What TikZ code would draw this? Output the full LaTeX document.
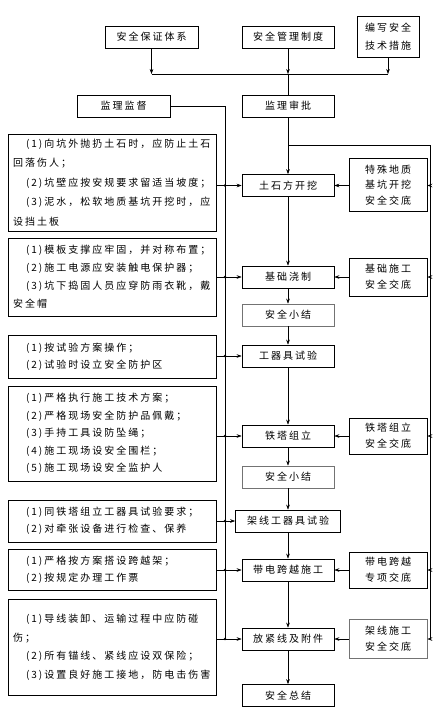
\documentclass[tikz,border=0pt]{standalone}
\usepackage{fontspec}
\newfontfamily\cjk[LetterSpace=20]{Noto Sans CJK SC}
\usetikzlibrary{arrows.meta,calc}
\begin{document}
\begin{tikzpicture}[x=1pt,y=-1pt,
  box/.style={draw, line width=0.7pt, inner sep=0pt, minimum height=22pt,
    font=\cjk\fontsize{10}{16}\selectfont, align=center},
  mbox/.style={box, minimum width=92pt},
  sbox/.style={box, minimum width=78pt},
  graybox/.style={draw=black!55},
  tbox/.style={draw, line width=0.7pt, minimum width=208pt, text width=198pt,
    inner xsep=5pt, inner ysep=0pt, align=left, font=\cjk\fontsize{10}{18}\selectfont},
  ln/.style={line width=0.5pt},
  arr/.style={ln, -{Stealth[length=5pt,width=3.6pt]}},
  jdot/.style={circle, fill, inner sep=0pt, minimum size=2.6pt}
]
\useasboundingbox (0,0) rectangle (441,718);

% top row
\node[box, minimum width=93pt] (A) at (151.5,37) {安全保证体系};
\node[mbox] (B) at (288,37) {安全管理制度};
\node[box, minimum width=62pt, minimum height=41pt, font=\cjk\fontsize{10}{18}\selectfont] (C) at (388,36.5) {编写安全\\技术措施};
\coordinate (hA) at (151.5,74);
\coordinate (hB) at (288,74);
\coordinate (hC) at (388,74);
\draw[arr] (A.south) -- (hA);
\draw[arr] (B.south) -- (hB);
\draw[arr] (C.south) -- (hC);
\draw[ln] (hA) -- (hC);

\node[box, minimum width=93pt] (E) at (123.5,106) {监理监督};
\node[mbox] (D) at (288,106) {监理审批};
\draw[ln] (hB) -- (D.north);

% main column
\node[mbox] (M1) at (288,185.5) {土石方开挖};
\node[mbox] (M2) at (288,277) {基础浇制};
\node[mbox, graybox] (M3) at (288,315) {安全小结};
\node[mbox] (M4) at (288,356) {工器具试验};
\node[mbox] (M5) at (288,436) {铁塔组立};
\node[mbox, graybox] (M6) at (288,477) {安全小结};
\node[box, minimum width=105pt] (M7) at (288,521) {架线工器具试验};
\node[mbox] (M8) at (288,570) {带电跨越施工};
\node[mbox] (M9) at (288,639) {放紧线及附件};
\node[mbox] (M10) at (288,695.5) {安全总结};

\draw[arr] (D.south) -- (M1.north);
\foreach \a/\b in {M1/M2,M2/M3,M3/M4,M4/M5,M5/M6,M6/M7,M7/M8,M8/M9,M9/M10}
  \draw[arr] (\a.south) -- (\b.north);

% side boxes
\node[sbox, minimum height=53pt, font=\cjk\fontsize{10}{15.5}\selectfont] (S1) at (388,185) {特殊地质\\基坑开挖\\安全交底};
\node[sbox, minimum height=38pt] (S2) at (388,277) {基础施工\\安全交底};
\node[sbox, minimum height=36pt] (S3) at (388,436) {铁塔组立\\安全交底};
\node[sbox, minimum height=36pt] (S4) at (388,570) {带电跨越\\专项交底};
\node[sbox, graybox, minimum height=39pt] (S5) at (388,639) {架线施工\\安全交底};

% right bus
\coordinate (rj) at (288,145);
\coordinate (rb) at (430,639);
\draw[ln] (rj) -| (rb);
\foreach \s/\m in {S1/M1,S2/M2,S3/M5,S4/M8,S5/M9}{
  \draw[arr] (\s.west |- \m) -- (\m.east);
  \draw[arr] (rb |- \m) -- (\s.east |- \m);
}

% left text boxes
\node[tbox, minimum height=97pt, font=\cjk\fontsize{10}{19.5}\selectfont] (T1) at (112,182.5)
 {\hspace*{13pt}(1)向坑外抛扔土石时，应防止土石\\回落伤人；\\\hspace*{13pt}(2)坑壁应按安规要求留适当坡度；\\\hspace*{13pt}(3)泥水，松软地质基坑开挖时，应\\设挡土板};
\node[tbox, minimum height=78pt] (T2) at (112,277)
 {\hspace*{13pt}(1)模板支撑应牢固，并对称布置；\\\hspace*{13pt}(2)施工电源应安装触电保护器；\\\hspace*{13pt}(3)坑下捣固人员应穿防雨衣靴，戴\\安全帽};
\node[tbox, minimum height=43pt, font=\cjk\fontsize{10}{17}\selectfont] (T3) at (112,356.5)
 {\hspace*{13pt}(1)按试验方案操作；\\\hspace*{13pt}(2)试验时设立安全防护区};
\node[tbox, minimum height=95pt, font=\cjk\fontsize{10}{17.5}\selectfont] (T4) at (112,433.5)
 {\hspace*{13pt}(1)严格执行施工技术方案；\\\hspace*{13pt}(2)严格现场安全防护品佩戴；\\\hspace*{13pt}(3)手持工具设防坠绳；\\\hspace*{13pt}(4)施工现场设安全围栏；\\\hspace*{13pt}(5)施工现场设安全监护人};
\node[tbox, minimum height=42pt, font=\cjk\fontsize{10}{17}\selectfont] (T5) at (112,521)
 {\hspace*{13pt}(1)同铁塔组立工器具试验要求；\\\hspace*{13pt}(2)对牵张设备进行检查、保养};
\node[tbox, minimum height=41pt, font=\cjk\fontsize{10}{17}\selectfont] (T6) at (112,569.5)
 {\hspace*{13pt}(1)严格按方案搭设跨越架；\\\hspace*{13pt}(2)按规定办理工作票};
\node[tbox, minimum height=96pt, font=\cjk\fontsize{10}{18.5}\selectfont] (T7) at (112,647)
 {\hspace*{13pt}(1)导线装卸、运输过程中应防碰\\伤；\\\hspace*{13pt}(2)所有锚线、紧线应设双保险；\\\hspace*{13pt}(3)设置良好施工接地，防电击伤害};

% left bus
\coordinate (lb) at (225,639);
\draw[ln] (E.east) -| (lb);
\foreach \t/\m in {T1/M1,T2/M2,T3/M4,T4/M5,T5/M7,T6/M8,T7/M9}{
  \draw[ln] (\t.east |- \m) -- (lb |- \m);
  \draw[arr] (lb |- \m) -- (\m.west);
  \node[jdot] at (lb |- \m) {};
}
\end{tikzpicture}
\end{document}
